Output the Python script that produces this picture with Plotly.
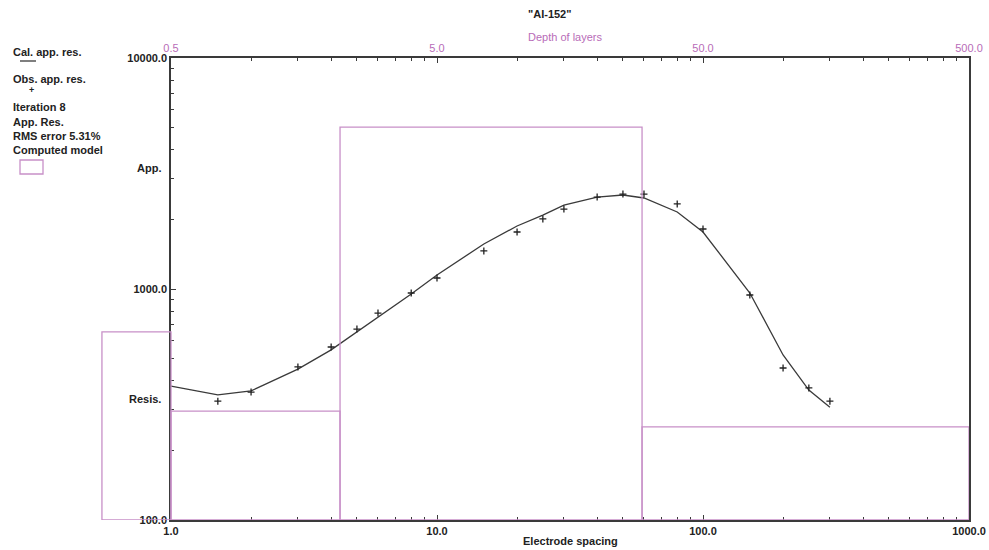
import math
import plotly.graph_objects as go

# Electrode spacing (AB/2) and apparent resistivities
spacing_calc = [1, 1.5, 2, 3, 4, 5, 6, 8, 10, 15, 20, 25, 30, 40, 50, 60, 80, 100, 150, 200, 250, 300]
rho_calc = [380, 348, 362, 450, 545, 651, 757, 952, 1150, 1566, 1874, 2090, 2309, 2500, 2552, 2477,
            2155, 1765, 961, 518, 365, 308]

spacing_obs = [1.5, 2, 3, 4, 5, 6, 8, 10, 15, 20, 25, 30, 40, 50, 60, 80, 100, 150, 200, 250, 300]
rho_obs = [327, 358, 460, 561, 671, 787, 961, 1116, 1461, 1765, 2010, 2219, 2500, 2577, 2577, 2334,
           1819, 942, 455, 373, 327]

# Computed layered model: layer boundaries (depth) and layer resistivities
model_depth_edges = [0.275, 0.5, 2.16, 29.5, 500.0]
model_rho = [652, 296, 5024, 253]

# Axis ticks
x_major = [1, 10, 100, 1000]
x_major_text = ["1.0", "10.0", "100.0", "1000.0"]
y_major = [100, 1000, 10000]
y_major_text = ["100.0", "1000.0", "10000.0"]
depth_major = [0.5, 5, 50, 500]
depth_major_text = ["0.5", "5.0", "50.0", "500.0"]

legend_lines = ["Iteration 8", "App. Res.", "RMS error 5.31%", "Computed model"]

W, H = 989, 550
ML, MR, MT, MB = 100, 20, 58, 30
PW, PH = W - ML - MR, H - MT - MB
AX_LEFT = 171  # pixel where the electrode-spacing axis starts
DEC_PX = (W - MR - AX_LEFT) / 3.0

DARK = "#3a3a3a"
PINK_LINE = "#c890c8"
PINK_TEXT = "#b86cb8"
FONT = "Liberation Sans Narrow, Liberation Sans, Arial"


def px(x):
    return (x - ML) / PW


def py(y):
    return 1 - (y - MT) / PH


def minor_vals(lo, hi, base=1.0):
    vals = []
    d = lo
    while d < hi:
        for k in range(2, 10):
            vals.append(base * d * k)
        d *= 10
    return vals


fig = go.Figure()

# Model rectangles (one per layer), on an axis that extends left of the main axis
for i, rho in enumerate(model_rho):
    x0, x1 = model_depth_edges[i], model_depth_edges[i + 1]
    fig.add_trace(go.Scatter(
        x=[x0, x0, x1, x1, x0], y=[100, rho, rho, 100, 100],
        xaxis="x3", yaxis="y", mode="lines",
        line=dict(color=PINK_LINE, width=1.3), hoverinfo="skip", showlegend=False))

fig.add_trace(go.Scatter(
    x=spacing_calc, y=rho_calc, mode="lines",
    line=dict(color=DARK, width=1.3), showlegend=False))
fig.add_trace(go.Scatter(
    x=spacing_obs, y=rho_obs, mode="markers",
    marker=dict(symbol="cross-thin", size=5, line=dict(color="#222222", width=1.3)),
    showlegend=False))

# Invisible trace to activate the depth axis
fig.add_trace(go.Scatter(x=[0.5, 500], y=[100, 100], xaxis="x2", mode="markers",
                         marker=dict(opacity=0), hoverinfo="skip", showlegend=False))

tickfont = dict(family=FONT, size=11, color="#222222", weight="bold")
x_dom0 = (AX_LEFT - ML) / PW

fig.update_layout(
    width=W, height=H, margin=dict(l=ML, r=MR, t=MT, b=MB, autoexpand=False),
    paper_bgcolor="white", plot_bgcolor="rgba(0,0,0,0)",
    xaxis=dict(type="log", range=[0, 3], domain=[x_dom0, 1], anchor="y", automargin=False,
               tickvals=x_major, ticktext=x_major_text, ticks="inside", ticklen=5,
               tickcolor=DARK, tickwidth=1, showgrid=False, zeroline=False,
               showline=True, linecolor=DARK, linewidth=1.5, tickfont=tickfont,
               minor=dict(tickvals=minor_vals(1, 1000), ticks="inside", ticklen=3,
                          tickcolor=DARK, tickwidth=1, showgrid=False)),
    xaxis2=dict(type="log", range=[math.log10(0.5), math.log10(500)], overlaying="x",
                side="top", anchor="y", automargin=False,
                tickvals=depth_major, ticktext=depth_major_text, ticks="inside", ticklen=5,
                tickcolor=DARK, tickwidth=1, showgrid=False, zeroline=False,
                showline=True, linecolor=DARK, linewidth=1.5,
                tickfont=dict(family=FONT, size=11, color=PINK_TEXT),
                minor=dict(tickvals=minor_vals(1, 1000, 0.5), ticks="inside", ticklen=3,
                           tickcolor=DARK, tickwidth=1, showgrid=False)),
    xaxis3=dict(type="log", domain=[0, 1], anchor="y", visible=False, automargin=False,
                range=[math.log10(0.5) - (AX_LEFT - ML) / DEC_PX, math.log10(500)]),
    yaxis=dict(type="log", range=[2, 4], anchor="x", automargin=False,
               tickvals=y_major, ticktext=y_major_text, ticks="inside", ticklen=5,
               tickcolor=DARK, tickwidth=1, showgrid=False, zeroline=False,
               showline=True, mirror=True, linecolor=DARK, linewidth=1.5, tickfont=tickfont,
               minor=dict(tickvals=minor_vals(100, 10000), ticks="inside", ticklen=3,
                          tickcolor=DARK, tickwidth=1, showgrid=False)),
)

annotations = []


def note(text, x, y, color="#222222", size=11, bold=True, xanchor="left"):
    annotations.append(dict(
        text=text, x=px(x), y=py(y), xref="paper", yref="paper", showarrow=False,
        xanchor=xanchor, yanchor="middle",
        font=dict(family=FONT, size=size, color=color, weight="bold" if bold else "normal")))


note('"AI-152"', 549, 14, xanchor="center")
note("Depth of layers", 565, 37, color=PINK_TEXT, bold=False, xanchor="center")
note("Electrode spacing", 570, 541, xanchor="center")
note("App.", 163, 168, xanchor="right")
note("Resis.", 163, 399, xanchor="right")
note("Cal. app. res.", 11, 52)
note("Obs. app. res.", 11, 79)
note("+", 31, 90, xanchor="center", size=9)
for i, t in enumerate(legend_lines):
    note(t, 11, [107, 122, 136, 150][i])

fig.update_layout(annotations=annotations)

fig.update_layout(shapes=[
    dict(type="line", xref="paper", yref="paper", x0=px(20), x1=px(36), y0=py(61), y1=py(61),
         line=dict(color=DARK, width=1.3)),
    dict(type="rect", xref="paper", yref="paper", x0=px(20), x1=px(43), y0=py(160), y1=py(174),
         line=dict(color=PINK_LINE, width=1.3)),
])

fig.write_html("out.html")
